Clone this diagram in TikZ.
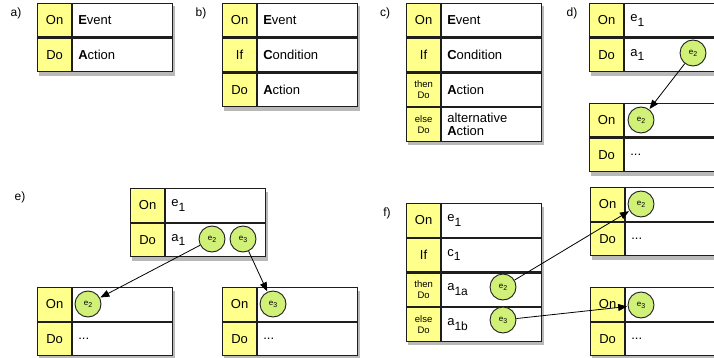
\documentclass[tikz,border=0pt]{standalone}
\usepackage{fontspec}
\setmainfont{Liberation Sans}
\usetikzlibrary{positioning,fit,backgrounds,shadows,arrows.meta}

\definecolor{regelgelb}{RGB}{255,255,140}
\definecolor{ereignisgruen}{RGB}{208,240,120}
\definecolor{rahmen}{RGB}{30,30,30}

% tiefgestellte Indizes wie im Original
\newcommand{\tief}[1]{\raisebox{-4.5pt}{\fontsize{12}{12}\selectfont #1}}
\newcommand{\ctief}[1]{\raisebox{-1.8pt}{\fontsize{7}{7}\selectfont #1}}

\tikzset{
  schluessel/.style = {draw=rahmen, line width=1.2pt, fill=regelgelb, minimum width=34pt,
                       minimum height=33.5pt, inner sep=0pt, align=center,
                       font=\fontsize{13}{14}\selectfont},
  klein/.style      = {font=\fontsize{9.5}{11}\selectfont},
  wert/.style       = {draw=rahmen, line width=1.2pt, fill=white, minimum width=100pt,
                       minimum height=33.5pt, text width=89pt, inner xsep=5.5pt, inner ysep=0pt,
                       align=left, font=\fontsize{13}{13.5}\selectfont},
  schatten/.style   = {inner sep=0pt, fill=white,
                       drop shadow={opacity=0.55, shadow xshift=1.5pt, shadow yshift=-3.5pt}},
  kreis/.style      = {circle, draw=rahmen, line width=0.9pt, fill=ereignisgruen,
                       minimum size=26pt, inner sep=0pt, font=\fontsize{8}{9}\selectfont},
  marke/.style      = {font=\fontsize{12}{13}\selectfont},
  pfeil/.style      = {-{Triangle[length=9pt,width=7pt]}, line width=0.8pt, shorten >=0.5pt}
}

\begin{document}
\begin{tikzpicture}[x=1pt, y=-1pt]
  \useasboundingbox (0,0) rectangle (714,358);
  \clip (0,0) rectangle (714,358);

  % a) Event - Action
  \node[marke] (la) at (16,13) {a)};
  \node[schluessel, anchor=north west] (aOn) at (37,3) {On};
  \node[wert, right=0pt of aOn] (aEv) {\textbf{E}vent};
  \node[schluessel, below=0pt of aOn] (aDo) {Do};
  \node[wert, right=0pt of aDo] (aAc) {\textbf{A}ction};

  % b) Event - Condition - Action
  \node[marke] (lb) at (201,13) {b)};
  \node[schluessel, anchor=north west] (bOn) at (222,3) {On};
  \node[wert, right=0pt of bOn] (bEv) {\textbf{E}vent};
  \node[schluessel, below=0pt of bOn] (bIf) {If};
  \node[wert, right=0pt of bIf] (bCo) {\textbf{C}ondition};
  \node[schluessel, below=0pt of bIf] (bDo) {Do};
  \node[wert, right=0pt of bDo] (bAc) {\textbf{A}ction};

  % c) mit Alternative
  \node[marke] (lc) at (385,13) {c)};
  \node[schluessel, anchor=north west] (cOn) at (406,3) {On};
  \node[wert, right=0pt of cOn] (cEv) {\textbf{E}vent};
  \node[schluessel, below=0pt of cOn] (cIf) {If};
  \node[wert, right=0pt of cIf] (cCo) {\textbf{C}ondition};
  \node[schluessel, klein, below=0pt of cIf] (cThen) {then\\Do};
  \node[wert, right=0pt of cThen] (cAc) {\textbf{A}ction};
  \node[schluessel, klein, below=0pt of cThen] (cElse) {else\\Do};
  \node[wert, right=0pt of cElse] (cAlt) {alternative\\\textbf{A}ction};

  % d) Kette
  \node[marke] (ld) at (572,13) {d)};
  \node[schluessel, anchor=north west] (dOn) at (589,3) {On};
  \node[wert, right=0pt of dOn] (dEv) {e\tief{1}};
  \node[schluessel, below=0pt of dOn] (dDo) {Do};
  \node[wert, right=0pt of dDo] (dAc) {a\tief{1}};
  \node[schluessel, anchor=north west] (dOnB) at (589,103) {On};
  \node[wert, right=0pt of dOnB] (dEvB) {};
  \node[schluessel, below=0pt of dOnB] (dDoB) {Do};
  \node[wert, right=0pt of dDoB] (dAcB) {...};
  \node[kreis] (dE2) at (693,53) {e\ctief{2}};
  \node[kreis] (dE2B) at (641,120) {e\ctief{2}};

  % e) Verzweigung
  \node[marke] (le) at (20,197) {e)};
  \node[schluessel, anchor=north west] (eOn) at (130,188) {On};
  \node[wert, right=0pt of eOn] (eEv) {e\tief{1}};
  \node[schluessel, below=0pt of eOn] (eDo) {Do};
  \node[wert, right=0pt of eDo] (eAc) {a\tief{1}};
  \node[schluessel, anchor=north west] (eOnL) at (37,287) {On};
  \node[wert, right=0pt of eOnL] (eEvL) {};
  \node[schluessel, below=0pt of eOnL] (eDoL) {Do};
  \node[wert, right=0pt of eDoL] (eAcL) {...};
  \node[schluessel, anchor=north west] (eOnR) at (222,287) {On};
  \node[wert, right=0pt of eOnR] (eEvR) {};
  \node[schluessel, below=0pt of eOnR] (eDoR) {Do};
  \node[wert, right=0pt of eDoR] (eAcR) {...};
  \node[kreis] (eE2) at (212,239) {e\ctief{2}};
  \node[kreis] (eE3) at (243,239) {e\ctief{3}};
  \node[kreis] (eE2L) at (88,304) {e\ctief{2}};
  \node[kreis] (eE3R) at (273,304) {e\ctief{3}};

  % f) Bedingung mit zwei Folgeregeln
  \node[marke] (lf) at (387,213) {f)};
  \node[schluessel, anchor=north west] (fOn) at (406,203) {On};
  \node[wert, right=0pt of fOn] (fEv) {e\tief{1}};
  \node[schluessel, below=0pt of fOn] (fIf) {If};
  \node[wert, right=0pt of fIf] (fCo) {c\tief{1}};
  \node[schluessel, klein, below=0pt of fIf] (fThen) {then\\Do};
  \node[wert, right=0pt of fThen] (fAc) {a\tief{1a}};
  \node[schluessel, klein, below=0pt of fThen] (fElse) {else\\Do};
  \node[wert, right=0pt of fElse] (fAlt) {a\tief{1b}};
  \node[schluessel, anchor=north west] (fOnO) at (590,187) {On};
  \node[wert, right=0pt of fOnO] (fEvO) {};
  \node[schluessel, below=0pt of fOnO] (fDoO) {Do};
  \node[wert, right=0pt of fDoO] (fAcO) {...};
  \node[schluessel, anchor=north west] (fOnU) at (590,287) {On};
  \node[wert, right=0pt of fOnU] (fEvU) {};
  \node[schluessel, below=0pt of fOnU] (fDoU) {Do};
  \node[wert, right=0pt of fDoU] (fAcU) {...};
  \node[kreis] (fE2) at (503,287) {e\ctief{2}};
  \node[kreis] (fE3) at (503,320) {e\ctief{3}};
  \node[kreis] (fE2O) at (641,204) {e\ctief{2}};
  \node[kreis] (fE3U) at (641,305) {e\ctief{3}};

  % Schatten
  \begin{scope}[on background layer]
    \foreach \oben/\unten in {aOn/aAc, bOn/bAc, cOn/cAlt, dOn/dAc, dOnB/dAcB, eOn/eAc,
                              eOnL/eAcL, eOnR/eAcR, fOn/fAlt, fOnO/fAcO, fOnU/fAcU}
      \node[schatten, fit=(\oben)(\unten)] {};
  \end{scope}

  % Pfeile
  \draw[pfeil] (dE2) -- (dE2B);
  \draw[pfeil] (eE2) -- (eE2L);
  \draw[pfeil] (eE3) -- (eE3R);
  \draw[pfeil] (fE2) -- (fE2O);
  \draw[pfeil] (fE3) -- (fE3U);
\end{tikzpicture}
\end{document}
